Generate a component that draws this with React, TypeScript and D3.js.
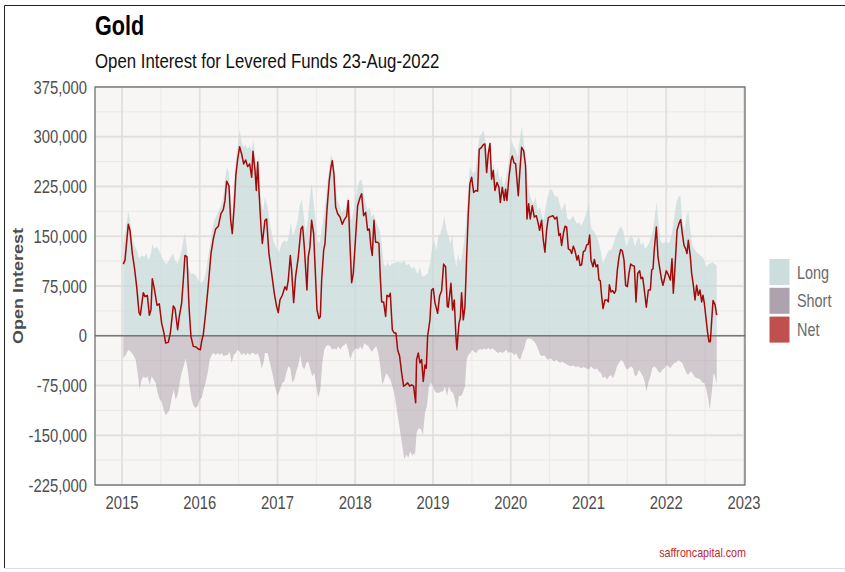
import React from "react";
import * as d3 from "d3";

// Levered funds open interest in gold, values in thousands of contracts
// [decimal year, value]
const LONG: [number, number][] = [
  [2015.017, 139], [2015.047, 159], [2015.081, 188], [2015.103, 174], [2015.133, 146], [2015.167, 134],
  [2015.202, 126], [2015.219, 116], [2015.253, 121], [2015.287, 119], [2015.317, 124], [2015.339, 114],
  [2015.373, 124], [2015.39, 138], [2015.416, 131], [2015.446, 134], [2015.476, 129], [2015.51, 119],
  [2015.545, 111], [2015.575, 108], [2015.605, 114], [2015.63, 119], [2015.656, 124], [2015.682, 114],
  [2015.716, 109], [2015.746, 119], [2015.767, 128], [2015.789, 144], [2015.81, 156], [2015.832, 134],
  [2015.853, 104], [2015.887, 93], [2015.917, 94], [2015.948, 91], [2015.982, 84], [2016.016, 79],
  [2016.046, 83], [2016.076, 94], [2016.102, 114], [2016.132, 136], [2016.162, 161], [2016.188, 174],
  [2016.218, 181], [2016.248, 190], [2016.273, 196], [2016.303, 209], [2016.325, 236], [2016.351, 254],
  [2016.376, 246], [2016.402, 199], [2016.419, 184], [2016.445, 236], [2016.462, 264], [2016.488, 286],
  [2016.513, 311], [2016.539, 291], [2016.565, 284], [2016.591, 288], [2016.616, 281], [2016.642, 286],
  [2016.668, 279], [2016.689, 296], [2016.711, 274], [2016.736, 244], [2016.762, 274], [2016.788, 199],
  [2016.818, 189], [2016.839, 209], [2016.873, 194], [2016.903, 169], [2016.946, 144], [2016.989, 131],
  [2017.019, 126], [2017.053, 139], [2017.088, 144], [2017.122, 141], [2017.148, 151], [2017.173, 171],
  [2017.199, 149], [2017.225, 159], [2017.259, 174], [2017.285, 196], [2017.311, 206], [2017.336, 184],
  [2017.362, 154], [2017.388, 174], [2017.413, 204], [2017.439, 231], [2017.465, 201], [2017.491, 174],
  [2017.516, 144], [2017.542, 139], [2017.568, 159], [2017.594, 181], [2017.619, 204], [2017.645, 234],
  [2017.671, 259], [2017.696, 274], [2017.722, 254], [2017.748, 224], [2017.774, 204], [2017.799, 196],
  [2017.825, 186], [2017.851, 191], [2017.877, 189], [2017.902, 211], [2017.928, 184], [2017.954, 174],
  [2017.979, 189], [2018.005, 209], [2018.031, 224], [2018.057, 234], [2018.082, 235], [2018.108, 216],
  [2018.134, 199], [2018.159, 189], [2018.185, 194], [2018.211, 179], [2018.237, 184], [2018.262, 174],
  [2018.288, 166], [2018.314, 159], [2018.34, 139], [2018.365, 109], [2018.391, 104], [2018.417, 111],
  [2018.442, 104], [2018.468, 109], [2018.502, 109], [2018.532, 111], [2018.562, 111], [2018.597, 110],
  [2018.631, 114], [2018.661, 106], [2018.691, 109], [2018.725, 101], [2018.76, 104], [2018.802, 93],
  [2018.832, 104], [2018.862, 89], [2018.897, 91], [2018.931, 94], [2018.961, 109], [2018.991, 134],
  [2019.017, 144], [2019.042, 129], [2019.068, 149], [2019.094, 154], [2019.12, 164], [2019.145, 181],
  [2019.171, 161], [2019.197, 151], [2019.222, 139], [2019.248, 151], [2019.274, 119], [2019.3, 104],
  [2019.325, 124], [2019.351, 109], [2019.377, 124], [2019.403, 144], [2019.428, 174], [2019.454, 224],
  [2019.475, 256], [2019.497, 249], [2019.523, 244], [2019.548, 249], [2019.574, 279], [2019.6, 301],
  [2019.625, 304], [2019.651, 310], [2019.677, 291], [2019.703, 274], [2019.728, 294], [2019.754, 249],
  [2019.78, 259], [2019.805, 241], [2019.831, 254], [2019.857, 234], [2019.883, 241], [2019.908, 224],
  [2019.934, 236], [2019.96, 249], [2019.986, 274], [2020.011, 294], [2020.037, 286], [2020.063, 281],
  [2020.088, 269], [2020.114, 294], [2020.14, 316], [2020.166, 294], [2020.191, 264], [2020.217, 229],
  [2020.243, 214], [2020.269, 204], [2020.294, 199], [2020.32, 209], [2020.346, 189], [2020.371, 194],
  [2020.397, 184], [2020.423, 174], [2020.449, 194], [2020.474, 209], [2020.5, 219], [2020.526, 221],
  [2020.552, 214], [2020.577, 209], [2020.603, 211], [2020.629, 199], [2020.654, 189], [2020.68, 196],
  [2020.698, 201], [2020.724, 179], [2020.749, 174], [2020.775, 176], [2020.801, 181], [2020.827, 174],
  [2020.852, 169], [2020.878, 171], [2020.904, 166], [2020.93, 171], [2020.955, 179], [2020.981, 189],
  [2021.007, 199], [2021.032, 164], [2021.058, 159], [2021.084, 154], [2021.11, 149], [2021.135, 139],
  [2021.161, 126], [2021.187, 109], [2021.212, 116], [2021.238, 124], [2021.264, 129], [2021.29, 129],
  [2021.315, 136], [2021.341, 146], [2021.367, 154], [2021.393, 161], [2021.418, 165], [2021.444, 159],
  [2021.47, 144], [2021.495, 134], [2021.521, 146], [2021.547, 151], [2021.573, 146], [2021.598, 134],
  [2021.624, 144], [2021.65, 149], [2021.675, 136], [2021.701, 141], [2021.727, 131], [2021.753, 134],
  [2021.778, 139], [2021.804, 149], [2021.83, 159], [2021.856, 184], [2021.877, 201], [2021.898, 174],
  [2021.924, 144], [2021.95, 139], [2021.976, 141], [2022.001, 141], [2022.027, 139], [2022.053, 144],
  [2022.078, 159], [2022.104, 179], [2022.13, 201], [2022.156, 209], [2022.181, 211], [2022.207, 174],
  [2022.233, 159], [2022.259, 179], [2022.284, 189], [2022.31, 159], [2022.336, 136], [2022.362, 131],
  [2022.387, 126], [2022.413, 124], [2022.439, 121], [2022.465, 119], [2022.49, 114], [2022.516, 104],
  [2022.542, 108], [2022.567, 109], [2022.593, 111], [2022.619, 109], [2022.649, 106],
];

const SHORT: [number, number][] = [
  [2015.017, -34], [2015.047, -29], [2015.081, -21], [2015.116, -24], [2015.146, -29], [2015.176, -36],
  [2015.202, -56], [2015.227, -81], [2015.253, -66], [2015.279, -61], [2015.304, -64], [2015.33, -61],
  [2015.356, -74], [2015.382, -61], [2015.407, -66], [2015.433, -71], [2015.459, -86], [2015.484, -96],
  [2015.51, -99], [2015.536, -111], [2015.562, -120], [2015.587, -116], [2015.613, -111], [2015.639, -94],
  [2015.665, -81], [2015.69, -96], [2015.716, -89], [2015.742, -71], [2015.767, -56], [2015.793, -46],
  [2015.819, -34], [2015.845, -51], [2015.87, -76], [2015.896, -96], [2015.922, -106], [2015.948, -109],
  [2015.973, -106], [2015.999, -96], [2016.025, -94], [2016.05, -81], [2016.076, -71], [2016.102, -56],
  [2016.128, -36], [2016.153, -29], [2016.179, -26], [2016.205, -29], [2016.23, -26], [2016.256, -29],
  [2016.282, -26], [2016.308, -31], [2016.333, -29], [2016.359, -29], [2016.385, -24], [2016.411, -41],
  [2016.436, -29], [2016.462, -26], [2016.488, -21], [2016.513, -24], [2016.539, -29], [2016.565, -26],
  [2016.591, -29], [2016.616, -26], [2016.642, -29], [2016.668, -26], [2016.693, -26], [2016.719, -29],
  [2016.745, -26], [2016.771, -34], [2016.796, -49], [2016.822, -40], [2016.839, -26], [2016.873, -26],
  [2016.903, -41], [2016.933, -56], [2016.968, -76], [2017.002, -91], [2017.032, -81], [2017.062, -71],
  [2017.088, -69], [2017.113, -56], [2017.139, -46], [2017.165, -49], [2017.191, -71], [2017.216, -66],
  [2017.242, -54], [2017.268, -44], [2017.293, -29], [2017.319, -46], [2017.345, -51], [2017.371, -41],
  [2017.396, -39], [2017.422, -51], [2017.448, -61], [2017.474, -56], [2017.499, -76], [2017.525, -94],
  [2017.551, -81], [2017.576, -41], [2017.602, -21], [2017.628, -15], [2017.654, -14], [2017.679, -16],
  [2017.705, -21], [2017.731, -19], [2017.757, -21], [2017.782, -16], [2017.808, -21], [2017.834, -16],
  [2017.859, -14], [2017.885, -11], [2017.911, -21], [2017.937, -36], [2017.962, -26], [2017.988, -21],
  [2018.014, -19], [2018.039, -21], [2018.065, -16], [2018.091, -21], [2018.117, -11], [2018.142, -14],
  [2018.168, -16], [2018.194, -21], [2018.219, -24], [2018.245, -19], [2018.271, -16], [2018.297, -26],
  [2018.322, -46], [2018.348, -74], [2018.374, -66], [2018.4, -56], [2018.425, -61], [2018.451, -66],
  [2018.477, -76], [2018.502, -86], [2018.528, -106], [2018.554, -126], [2018.58, -146], [2018.605, -166],
  [2018.631, -186], [2018.657, -179], [2018.682, -184], [2018.708, -174], [2018.734, -181], [2018.76, -176],
  [2018.768, -181], [2018.789, -146], [2018.819, -139], [2018.845, -141], [2018.871, -149], [2018.897, -116],
  [2018.922, -106], [2018.948, -76], [2018.974, -71], [2019.0, -76], [2019.025, -84], [2019.051, -86],
  [2019.077, -86], [2019.102, -84], [2019.128, -84], [2019.154, -76], [2019.18, -91], [2019.205, -76],
  [2019.231, -84], [2019.257, -86], [2019.282, -96], [2019.308, -111], [2019.334, -91], [2019.36, -91],
  [2019.385, -86], [2019.411, -76], [2019.433, -36], [2019.454, -29], [2019.48, -26], [2019.505, -21],
  [2019.531, -24], [2019.557, -26], [2019.583, -21], [2019.608, -20], [2019.634, -21], [2019.66, -19],
  [2019.685, -21], [2019.711, -18], [2019.737, -21], [2019.763, -19], [2019.788, -21], [2019.814, -24],
  [2019.84, -26], [2019.866, -24], [2019.891, -26], [2019.917, -24], [2019.943, -21], [2019.968, -26],
  [2019.994, -24], [2020.02, -26], [2020.046, -29], [2020.071, -26], [2020.097, -34], [2020.123, -36],
  [2020.149, -26], [2020.174, -19], [2020.2, -6], [2020.226, -4], [2020.251, -4], [2020.277, -6],
  [2020.303, -9], [2020.329, -14], [2020.354, -21], [2020.38, -29], [2020.406, -31], [2020.432, -29],
  [2020.457, -34], [2020.483, -36], [2020.509, -34], [2020.534, -36], [2020.56, -39], [2020.586, -36],
  [2020.612, -39], [2020.637, -41], [2020.663, -39], [2020.689, -41], [2020.732, -44], [2020.767, -46],
  [2020.801, -45], [2020.835, -47], [2020.869, -46], [2020.904, -49], [2020.938, -47], [2020.972, -49],
  [2021.007, -51], [2021.032, -46], [2021.058, -49], [2021.084, -51], [2021.11, -49], [2021.135, -54],
  [2021.161, -56], [2021.187, -64], [2021.212, -61], [2021.238, -66], [2021.264, -61], [2021.29, -59],
  [2021.315, -64], [2021.341, -56], [2021.367, -46], [2021.393, -41], [2021.418, -36], [2021.444, -39],
  [2021.47, -46], [2021.495, -51], [2021.521, -49], [2021.547, -46], [2021.573, -49], [2021.598, -61],
  [2021.624, -59], [2021.65, -51], [2021.675, -56], [2021.701, -61], [2021.727, -71], [2021.744, -84],
  [2021.77, -71], [2021.796, -61], [2021.821, -49], [2021.847, -46], [2021.873, -49], [2021.898, -54],
  [2021.924, -56], [2021.95, -51], [2021.976, -49], [2022.001, -44], [2022.027, -46], [2022.053, -49],
  [2022.078, -44], [2022.104, -41], [2022.13, -40], [2022.156, -37], [2022.181, -39], [2022.207, -41],
  [2022.233, -49], [2022.259, -56], [2022.284, -59], [2022.31, -54], [2022.336, -56], [2022.362, -61],
  [2022.387, -64], [2022.413, -64], [2022.439, -66], [2022.465, -71], [2022.49, -71], [2022.516, -81],
  [2022.542, -96], [2022.559, -111], [2022.585, -86], [2022.61, -56], [2022.627, -61], [2022.649, -74],
];

const NET: [number, number][] = [
  [2015.017, 108], [2015.039, 114], [2015.081, 168], [2015.103, 159], [2015.133, 124], [2015.159, 104],
  [2015.189, 74], [2015.219, 35], [2015.236, 31], [2015.274, 65], [2015.296, 59], [2015.326, 61],
  [2015.352, 31], [2015.373, 39], [2015.39, 86], [2015.416, 71], [2015.45, 46], [2015.48, 48],
  [2015.51, 19], [2015.54, 4], [2015.562, -11], [2015.596, -10], [2015.622, 4], [2015.66, 45],
  [2015.682, 41], [2015.716, 9], [2015.737, 29], [2015.767, 49], [2015.789, 84], [2015.81, 121],
  [2015.836, 119], [2015.862, 44], [2015.887, -1], [2015.917, -16], [2015.952, -17], [2015.982, -20],
  [2016.008, -21], [2016.025, -8], [2016.046, 2], [2016.076, 34], [2016.11, 76], [2016.145, 124],
  [2016.175, 146], [2016.205, 161], [2016.239, 165], [2016.273, 184], [2016.303, 190], [2016.325, 204],
  [2016.346, 233], [2016.376, 226], [2016.398, 174], [2016.419, 154], [2016.445, 199], [2016.466, 244],
  [2016.488, 266], [2016.513, 285], [2016.539, 274], [2016.565, 259], [2016.591, 265], [2016.616, 255],
  [2016.642, 259], [2016.668, 239], [2016.685, 278], [2016.711, 249], [2016.728, 219], [2016.745, 262],
  [2016.762, 219], [2016.788, 164], [2016.805, 139], [2016.839, 174], [2016.86, 176], [2016.89, 124],
  [2016.925, 94], [2016.959, 64], [2016.989, 44], [2017.01, 35], [2017.032, 54], [2017.062, 61],
  [2017.096, 74], [2017.118, 69], [2017.139, 84], [2017.165, 121], [2017.182, 99], [2017.208, 50],
  [2017.233, 89], [2017.268, 119], [2017.302, 161], [2017.323, 165], [2017.345, 134], [2017.379, 69],
  [2017.396, 119], [2017.418, 134], [2017.439, 174], [2017.465, 154], [2017.482, 109], [2017.508, 39],
  [2017.534, 26], [2017.551, 29], [2017.568, 84], [2017.594, 129], [2017.611, 139], [2017.636, 189],
  [2017.666, 234], [2017.688, 254], [2017.705, 264], [2017.726, 244], [2017.748, 194], [2017.774, 184],
  [2017.804, 179], [2017.834, 168], [2017.859, 175], [2017.889, 180], [2017.911, 204], [2017.932, 139],
  [2017.954, 80], [2017.975, 94], [2018.005, 149], [2018.031, 196], [2018.061, 208], [2018.082, 214],
  [2018.108, 181], [2018.134, 186], [2018.159, 159], [2018.181, 161], [2018.202, 134], [2018.219, 121],
  [2018.241, 174], [2018.262, 141], [2018.288, 141], [2018.305, 139], [2018.322, 89], [2018.34, 51],
  [2018.365, 51], [2018.391, 29], [2018.408, 61], [2018.434, 59], [2018.451, 64], [2018.477, 9],
  [2018.502, 4], [2018.524, 4], [2018.545, -21], [2018.571, -31], [2018.597, -56], [2018.622, -76],
  [2018.648, -74], [2018.674, -71], [2018.7, -76], [2018.725, -74], [2018.751, -76], [2018.777, -101],
  [2018.789, -36], [2018.811, -26], [2018.832, -41], [2018.854, -36], [2018.875, -69], [2018.897, -44],
  [2018.914, -49], [2018.931, -1], [2018.961, 24], [2018.982, 69], [2019.004, 71], [2019.025, 50],
  [2019.06, 34], [2019.085, 60], [2019.111, 68], [2019.137, 108], [2019.162, 104], [2019.184, 44],
  [2019.197, 43], [2019.231, 79], [2019.252, 39], [2019.274, 54], [2019.295, -1], [2019.308, -21],
  [2019.334, 19], [2019.351, 26], [2019.368, 65], [2019.39, 24], [2019.411, 44], [2019.433, 119],
  [2019.454, 184], [2019.475, 229], [2019.497, 239], [2019.523, 216], [2019.548, 219], [2019.574, 218],
  [2019.595, 281], [2019.625, 284], [2019.647, 288], [2019.668, 289], [2019.69, 246], [2019.711, 274],
  [2019.733, 290], [2019.754, 236], [2019.775, 249], [2019.797, 219], [2019.823, 231], [2019.848, 224],
  [2019.866, 201], [2019.891, 224], [2019.917, 204], [2019.934, 221], [2019.951, 204], [2019.977, 239],
  [2020.003, 264], [2020.02, 271], [2020.041, 261], [2020.063, 259], [2020.097, 211], [2020.118, 249],
  [2020.14, 284], [2020.166, 279], [2020.191, 256], [2020.209, 176], [2020.23, 199], [2020.251, 176],
  [2020.277, 196], [2020.303, 179], [2020.329, 181], [2020.354, 169], [2020.371, 159], [2020.397, 174],
  [2020.419, 144], [2020.44, 126], [2020.461, 159], [2020.483, 178], [2020.517, 180], [2020.543, 181],
  [2020.569, 176], [2020.594, 179], [2020.62, 151], [2020.637, 154], [2020.654, 136], [2020.68, 156],
  [2020.698, 165], [2020.719, 164], [2020.741, 131], [2020.767, 129], [2020.784, 124], [2020.805, 135],
  [2020.827, 128], [2020.852, 114], [2020.869, 121], [2020.891, 106], [2020.912, 107], [2020.934, 127],
  [2020.955, 128], [2020.977, 137], [2020.998, 138], [2021.015, 152], [2021.032, 114], [2021.058, 104],
  [2021.075, 115], [2021.097, 104], [2021.118, 107], [2021.135, 84], [2021.152, 83], [2021.17, 59],
  [2021.187, 41], [2021.212, 54], [2021.238, 54], [2021.255, 51], [2021.268, 77], [2021.29, 66],
  [2021.311, 68], [2021.332, 64], [2021.35, 68], [2021.371, 99], [2021.393, 119], [2021.414, 130],
  [2021.435, 128], [2021.457, 114], [2021.478, 76], [2021.5, 74], [2021.521, 94], [2021.543, 108],
  [2021.564, 106], [2021.59, 105], [2021.611, 51], [2021.633, 94], [2021.658, 98], [2021.675, 86],
  [2021.697, 88], [2021.718, 69], [2021.744, 43], [2021.77, 69], [2021.796, 69], [2021.813, 99],
  [2021.83, 101], [2021.847, 131], [2021.873, 164], [2021.894, 119], [2021.92, 99], [2021.941, 84],
  [2021.958, 76], [2021.984, 89], [2022.001, 98], [2022.027, 92], [2022.053, 84], [2022.074, 116],
  [2022.091, 64], [2022.113, 104], [2022.139, 159], [2022.164, 169], [2022.186, 175], [2022.207, 154],
  [2022.229, 136], [2022.25, 131], [2022.267, 124], [2022.284, 144], [2022.31, 119], [2022.327, 94],
  [2022.349, 76], [2022.37, 54], [2022.391, 76], [2022.413, 61], [2022.434, 69], [2022.456, 51],
  [2022.473, 61], [2022.49, 49], [2022.507, 31], [2022.533, 4], [2022.55, -9], [2022.567, -9],
  [2022.585, 24], [2022.602, 53], [2022.627, 47], [2022.649, 31],
];

const Y_TICKS = [-225000, -150000, -75000, 0, 75000, 150000, 225000, 300000, 375000];
const X_TICKS = [2015, 2016, 2017, 2018, 2019, 2020, 2021, 2022, 2023];
const LEGEND = [
  { name: "Long", color: "#cbdedd" },
  { name: "Short", color: "#aea2ae" },
  { name: "Net", color: "#c0504d" },
];

const W = 845;
const H = 572;
const panel = { left: 95, right: 745, top: 87, bottom: 485 };
const FONT = "'Liberation Sans', Arial, Helvetica, sans-serif";
const SQ = 0.8; // the original render is horizontally squeezed

const fmt = d3.formatLocale({
  decimal: ".",
  thousands: ",",
  grouping: [3],
  currency: ["$", ""],
  minus: "-",
}).format(",");

const Txt = ({ x, y, anchor = "start", size, weight = "normal", fill = "#4d4d4d", children }: any) => (
  <text
    transform={`translate(${x},${y}) scale(${SQ},1)`}
    textAnchor={anchor}
    fontSize={size}
    fontWeight={weight}
    fill={fill}
    fontFamily={FONT}
  >
    {children}
  </text>
);

export default function App() {
  const x = d3.scaleLinear().domain([2014.653, 2023.013]).range([panel.left, panel.right]);
  const y = d3.scaleLinear().domain([-225000, 375000]).range([panel.bottom, panel.top]);

  const area = d3
    .area<[number, number]>()
    .x((d) => x(d[0]))
    .y0(y(0))
    .y1((d) => y(d[1] * 1000));
  const line = d3
    .line<[number, number]>()
    .x((d) => x(d[0]))
    .y((d) => y(d[1] * 1000));

  const minorY = d3.range(-225000 + 37500, 375000, 75000);
  const minorX = X_TICKS.slice(0, -1).map((t) => t + 0.5);

  return (
    <svg
      width={W}
      height={H}
      style={{ position: "absolute", left: 0, top: 0, background: "#fff" }}
    >
      <rect width={W} height={H} fill="#fff" />
      {/* outer frame */}
      <line x1={4.5} x2={W} y1={5.5} y2={5.5} stroke="#222" strokeWidth={1} />
      <line x1={4.5} x2={4.5} y1={5.5} y2={568} stroke="#222" strokeWidth={1} />
      <line x1={4.5} x2={W} y1={568.5} y2={568.5} stroke="#ddd" strokeWidth={1} />

      <Txt x={95} y={35} size={27} weight="bold" fill="#000">Gold</Txt>
      <Txt x={95} y={68} size={21} fill="#111">Open Interest for Levered Funds 23-Aug-2022</Txt>

      {/* panel */}
      <rect
        x={panel.left}
        y={panel.top}
        width={panel.right - panel.left}
        height={panel.bottom - panel.top}
        fill="#f7f6f4"
      />
      <g>
        {minorY.map((v) => (
          <line key={"my" + v} x1={panel.left} x2={panel.right} y1={y(v)} y2={y(v)} stroke="#ebe9e7" strokeWidth={1} />
        ))}
        {minorX.map((v) => (
          <line key={"mx" + v} x1={x(v)} x2={x(v)} y1={panel.top} y2={panel.bottom} stroke="#ebe9e7" strokeWidth={1} />
        ))}
        {Y_TICKS.map((v) => (
          <line key={"y" + v} x1={panel.left} x2={panel.right} y1={y(v)} y2={y(v)} stroke="#e2e0de" strokeWidth={1.8} />
        ))}
        {X_TICKS.map((v) => (
          <line key={"x" + v} x1={x(v)} x2={x(v)} y1={panel.top} y2={panel.bottom} stroke="#e2e0de" strokeWidth={1.8} />
        ))}
      </g>

      <path d={area(LONG) || ""} fill="#c6dada" fillOpacity={0.7} />
      <path d={area(SHORT) || ""} fill="#a99ba8" fillOpacity={0.5} />
      <line x1={panel.left} x2={panel.right} y1={y(0)} y2={y(0)} stroke="#777" strokeWidth={1.6} />
      <path d={line(NET) || ""} fill="none" stroke="#a30a0a" strokeWidth={1.5} strokeLinejoin="round" />

      <rect
        x={panel.left}
        y={panel.top}
        width={panel.right - panel.left}
        height={panel.bottom - panel.top}
        fill="none"
        stroke="#666"
        strokeWidth={1.2}
      />

      {/* y axis */}
      {Y_TICKS.map((v) => (
        <Txt key={"yl" + v} x={87} y={y(v) + 6.5} anchor="end" size={18.5}>
          {fmt(v)}
        </Txt>
      ))}
      <text
        transform={`translate(22.5,${(panel.top + panel.bottom) / 2}) scale(${SQ},1) rotate(-90)`}
        textAnchor="middle"
        fontSize={18}
        fontWeight="bold"
        fill="#4d4d4d"
        fontFamily={FONT}
      >
        Open Interest
      </text>

      {/* x axis */}
      {X_TICKS.map((v) => (
        <Txt key={"xl" + v} x={x(v)} y={509} anchor="middle" size={18.5}>
          {v}
        </Txt>
      ))}

      {/* legend */}
      {LEGEND.map((d, i) => (
        <g key={d.name}>
          <rect x={769.5} y={259 + i * 28.8} width={20} height={26} fill={d.color} />
          <Txt x={797} y={278.5 + i * 28.8} size={18} fill="#6b6b6b">
            {d.name}
          </Txt>
        </g>
      ))}

      <Txt x={746} y={557} anchor="end" size={13.4} fill="#c0282d">
        saffroncapital.com
      </Txt>
    </svg>
  );
}
